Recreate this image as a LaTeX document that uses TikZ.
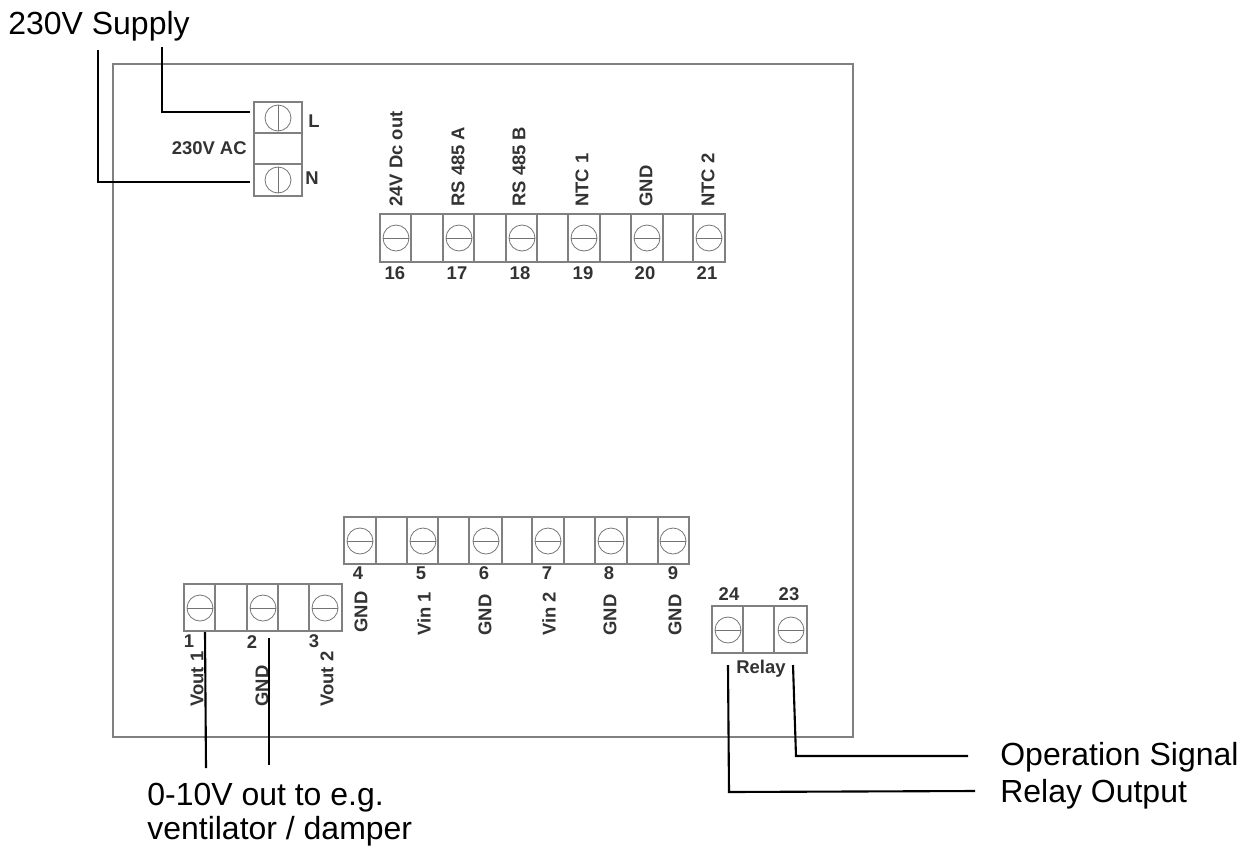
\documentclass[tikz,border=0pt]{standalone}
\usepackage{fontspec}
\setmainfont{Liberation Sans}
\usetikzlibrary{positioning}
\tikzset{
    part/.style={draw=black!50, line width=0.6pt},
    wire/.style={draw=black, line width=1.2pt},
    screwhead/.style={circle, draw=black!55, line width=0.45pt, minimum size=0.52cm, inner sep=0pt,
        path picture={\draw[black!55, line width=0.45pt] (path picture bounding box.west) -- (path picture bounding box.east);}},
    screwupright/.style={circle, draw=black!55, line width=0.45pt, minimum size=0.52cm, inner sep=0pt,
        path picture={\draw[black!55, line width=0.45pt] (path picture bounding box.north) -- (path picture bounding box.south);}},
    pinlabel/.style={font=\fontsize{10.5}{12}\selectfont\bfseries, text=black!80, inner sep=0pt},
    sidelabel/.style={pinlabel, rotate=90, anchor=west},
    notelabel/.style={font=\fontsize{18.2}{20.5}\selectfont, inner sep=0pt, anchor=base west}
}
\begin{document}
\begin{tikzpicture}[x=0.02cm, y=-0.02cm]
            \useasboundingbox (0,0) rectangle (1245,846);
            % Housing
            \draw[part, line width=0.8pt] (113,64) rectangle (853,737);

            % Supply terminal
            \draw[part] (254,102) rectangle (302,196);
            \draw[part] (254,133) -- (302,133) (254,164) -- (302,164);
            \node[screwupright] (screwl) at (278,118) {};
            \node[screwupright] (screwn) at (278,180) {};
            \node[pinlabel] (pinl) at (314,121) {L};
            \node[pinlabel] (pinn) at (312,178) {N};
            \node[pinlabel, anchor=east] (acsupply) at (247,148) {230V AC};

            % Upper terminal row
            \draw[part] (380,214) rectangle (725,262);
            \draw[part] (411,214) -- (411,262) (443,214) -- (443,262) (474,214) -- (474,262)
                (506,214) -- (506,262) (537,214) -- (537,262) (568,214) -- (568,262)
                (600,214) -- (600,262) (631,214) -- (631,262) (663,214) -- (663,262)
                (693,214) -- (693,262);
            \node[screwhead] (screw16) at (396,238) {};
            \node[screwhead] (screw17) at (459,238) {};
            \node[screwhead] (screw18) at (522,238) {};
            \node[screwhead] (screw19) at (584,238) {};
            \node[screwhead] (screw20) at (647,238) {};
            \node[screwhead] (screw21) at (709,238) {};
            \node[pinlabel] (num16) at (395,273) {16};
            \node[pinlabel] (num17) at (457,273) {17};
            \node[pinlabel] (num18) at (520,273) {18};
            \node[pinlabel] (num19) at (583,273) {19};
            \node[pinlabel] (num20) at (645,273) {20};
            \node[pinlabel] (num21) at (707,273) {21};
            \node[sidelabel] (dcout) at (396,207) {24V Dc out};
            \node[sidelabel] (rsa) at (458,207) {RS 485 A};
            \node[sidelabel] (rsb) at (519,207) {RS 485 B};
            \node[sidelabel] (ntca) at (582,207) {NTC 1};
            \node[sidelabel] (gndtop) at (646,207) {GND};
            \node[sidelabel] (ntcb) at (708,207) {NTC 2};

            % Lower terminal row
            \draw[part] (344,517) rectangle (689,564);
            \draw[part] (376,517) -- (376,564) (407,517) -- (407,564) (438,517) -- (438,564)
                (469,517) -- (469,564) (502,517) -- (502,564) (532,517) -- (532,564)
                (564,517) -- (564,564) (595,517) -- (595,564) (627,517) -- (627,564)
                (658,517) -- (658,564);
            \node[screwhead] (screw4) at (360,541) {};
            \node[screwhead] (screw5) at (423,541) {};
            \node[screwhead] (screw6) at (486,541) {};
            \node[screwhead] (screw7) at (548,541) {};
            \node[screwhead] (screw8) at (611,541) {};
            \node[screwhead] (screw9) at (673,541) {};
            \node[pinlabel] (num4) at (358,573) {4};
            \node[pinlabel] (num5) at (421,573) {5};
            \node[pinlabel] (num6) at (484,573) {6};
            \node[pinlabel] (num7) at (547,573) {7};
            \node[pinlabel] (num8) at (609,573) {8};
            \node[pinlabel] (num9) at (673,573) {9};
            \node[sidelabel] (gnda) at (361,633) {GND};
            \node[sidelabel] (vina) at (424,636) {Vin 1};
            \node[sidelabel] (gndb) at (485,636) {GND};
            \node[sidelabel] (vinb) at (549,636) {Vin 2};
            \node[sidelabel] (gndc) at (610,636) {GND};
            \node[sidelabel] (gndd) at (675,636) {GND};

            % Output terminal
            \draw[part] (184,584) rectangle (342,631);
            \draw[part] (215,584) -- (215,631) (247,584) -- (247,631) (278,584) -- (278,631)
                (309,584) -- (309,631);
            \node[screwhead] (screw1) at (200,608) {};
            \node[screwhead] (screw2) at (263,608) {};
            \node[screwhead] (screw3) at (325,608) {};
            \node[pinlabel] (num1) at (189,641) {1};
            \node[pinlabel] (num2) at (252,642) {2};
            \node[pinlabel] (num3) at (314,641) {3};
            \node[sidelabel] (vouta) at (197,707) {Vout 1};
            \node[sidelabel] (gndout) at (262,707) {GND};
            \node[sidelabel] (voutb) at (327,707) {Vout 2};

            % Relay terminal
            \draw[part] (712,606) rectangle (807,653);
            \draw[part] (743,606) -- (743,653) (774,606) -- (774,653);
            \node[screwhead] (screw24) at (728,630) {};
            \node[screwhead] (screw23) at (791,630) {};
            \node[pinlabel] (num24) at (729,594) {24};
            \node[pinlabel] (num23) at (789,594) {23};
            \node[pinlabel] (relay) at (761,669) {Relay};

            % Wiring notes
            \node[notelabel] (supply) at (8,34) {230V Supply};
            \node[notelabel] (analoga) at (147,805) {0-10V out to e.g.};
            \node[notelabel] (analogb) at (147,839) {ventilator / damper};
            \node[notelabel] (signal) at (1000,765) {Operation Signal};
            \node[notelabel] (output) at (1000,802) {Relay Output};

            \coordinate (ltop) at (162,47);
            \coordinate (lend) at (250,112);
            \coordinate (ntop) at (98,50);
            \coordinate (nend) at (250,182);
            \coordinate (outa) at (205,632);
            \coordinate (outb) at (269,638);
            \coordinate (outabase) at (206,768);
            \coordinate (outbbase) at (269,765);
            \coordinate (relaytop) at (728,665);
            \coordinate (signaltop) at (793,665);
            \coordinate (relaybend) at (729,792);
            \coordinate (signalbend) at (796,756);
            \coordinate (relayend) at (975,791);
            \coordinate (signalend) at (968,756);

            \draw[wire] (ltop) |- (lend);
            \draw[wire] (ntop) |- (nend);
            \draw[wire] (outa) -- (outabase);
            \draw[wire] (outb) -- (outbbase);
            \draw[wire] (relaytop) -- (relaybend) -- (relayend);
            \draw[wire] (signaltop) -- (signalbend) -- (signalend);
        \end{tikzpicture}
\end{document}
